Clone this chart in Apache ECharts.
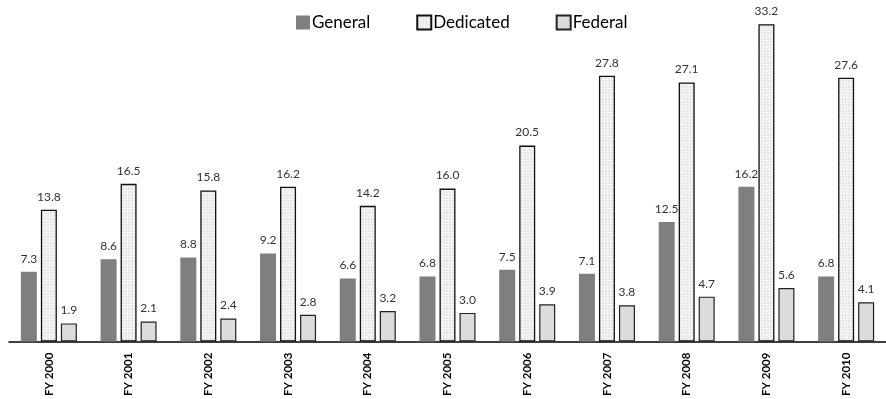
<!DOCTYPE html>
<html><head><meta charset="utf-8">
<script src="https://cdn.jsdelivr.net/npm/echarts@6/dist/echarts.min.js"></script>
<style>html,body{margin:0;padding:0;background:#fff}#c{width:886px;height:399px}</style>
</head><body><div id="c"></div>
<script>
const categories = ['FY 2000','FY 2001','FY 2002','FY 2003','FY 2004','FY 2005','FY 2006','FY 2007','FY 2008','FY 2009','FY 2010'];
const general = [7.3, 8.6, 8.8, 9.2, 6.6, 6.8, 7.5, 7.1, 12.5, 16.2, 6.8];
const dedicated = [13.8, 16.5, 15.8, 16.2, 14.2, 16.0, 20.5, 27.8, 27.1, 33.2, 27.6];
const federal = [1.9, 2.1, 2.4, 2.8, 3.2, 3.0, 3.9, 3.8, 4.7, 5.6, 4.1];

// speckled texture for the "Dedicated" fill (fixed pattern)
const tex = document.createElement('canvas');
tex.width = 6; tex.height = 6;
const tc = tex.getContext('2d');
const shades = ['#f0f0f0','#e4e4e4','#f7f7f7','#eaeaea','#dedede','#f3f3f3'];
for (let y = 0; y < 6; y++) for (let x = 0; x < 6; x++) {
  tc.fillStyle = shades[(x * 2 + y * 5 + (x * y) % 3) % shades.length];
  tc.fillRect(x, y, 1, 1);
}

const font = 'Lato, "Open Sans", sans-serif';
const chart = echarts.init(document.getElementById('c'));
const label = { show: true, position: 'top', distance: 7, color: '#333', fontSize: 12, fontFamily: font,
  formatter: p => p.value.toFixed(1) };
chart.setOption({
  animation: false,
  legend: {
    top: 9, left: 291, itemWidth: 14, itemHeight: 14, itemGap: 46, icon: 'rect',
    textStyle: { fontSize: 17, fontFamily: font, color: '#000', padding: [0,0,0,-3] },
    data: ['General','Dedicated','Federal']
  },
  grid: { left: 9, top: 7, width: 889, height: 335 },
  xAxis: {
    type: 'category', data: categories,
    axisLine: { lineStyle: { color: '#000', width: 1.5 } },
    axisTick: { show: false },
    axisLabel: { rotate: 90, margin: 11, fontWeight: 'bold', fontSize: 11.5, color: '#000', fontFamily: font }
  },
  yAxis: { type: 'value', min: 0, max: 35, show: false, splitLine: { show: false } },
  series: [
    { name: 'General', type: 'bar', data: general, barWidth: 16, barGap: '25%',
      itemStyle: { color: '#7f7f7f' }, label },
    { name: 'Dedicated', type: 'bar', data: dedicated, barWidth: 16, barGap: '25%',
      itemStyle: { color: { image: tex, repeat: 'repeat' }, borderColor: '#111', borderWidth: 1.3 }, label },
    { name: 'Federal', type: 'bar', data: federal, barWidth: 16, barGap: '25%',
      itemStyle: { color: '#dcdcdc', borderColor: '#222', borderWidth: 1.2 }, label }
  ]
});
</script></body></html>
